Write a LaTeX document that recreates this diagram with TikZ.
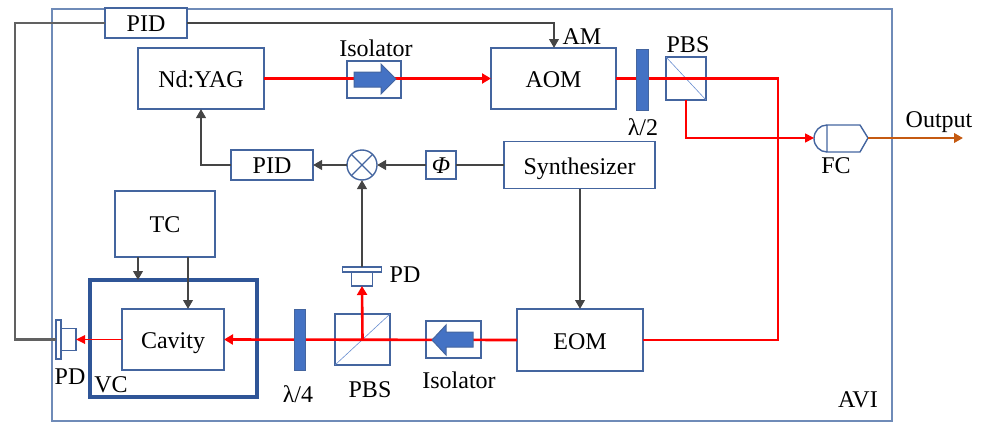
\documentclass[tikz,border=0pt]{standalone}
\usepackage{fontspec}
\setmainfont{Liberation Serif}
\usetikzlibrary{arrows.meta}
\definecolor{boxc}{HTML}{44659F}
\definecolor{outerc}{HTML}{6F8BB8}
\definecolor{vcc}{HTML}{2F5597}
\definecolor{platec}{HTML}{4472C4}
\definecolor{darkl}{HTML}{454545}
\definecolor{redl}{HTML}{FF0000}
\definecolor{orangel}{HTML}{C55A11}
\tikzset{
 x=1pt,y=-1pt,
 boxn/.style={draw=boxc,line width=1.4pt,inner sep=0pt,outer sep=0pt,font=\fontsize{24}{28}\selectfont,minimum width=#1},
 txtc/.style={text height=18pt,text depth=0pt},
 plate/.style={draw=boxc,fill=platec,line width=.6pt,inner sep=0pt,outer sep=0pt,minimum width=#1},
 lab/.style={inner sep=0pt,font=\fontsize{24}{28}\selectfont},
 sig/.style={draw=darkl,line width=2.7pt},
 sigar/.style={sig,-{Triangle[length=9pt,width=9.5pt]}},
 beam/.style={draw=redl,line width=2.6pt},
 beamar/.style={beam,-{Triangle[length=9pt,width=10pt]}},
 thinbeam/.style={draw=redl,line width=1.7pt,-{Triangle[length=9pt,width=8.5pt]}},
 arrowshape/.style={draw=boxc,fill=platec,line width=1pt,line join=miter},
}
\begin{document}
\begin{tikzpicture}
\useasboundingbox (0,0) rectangle (988,423);
\node[draw=outerc,line width=1.4pt,inner sep=0pt,outer sep=0pt,minimum width=840pt,minimum height=412pt] (avi) at (472,215) {};
% boxes
\node[boxn=82pt,minimum height=30pt,fill=white,text height=16pt,text depth=0pt] (pidt) at (146,23) {PID};
\node[boxn=126pt,minimum height=61pt,txtc] (yag) at (201,78.5) {Nd:YAG};
\node[boxn=54pt,minimum height=37pt] (isot) at (374,79.5) {};
\node[boxn=125pt,minimum height=61pt,txtc] (aom) at (553.5,78.5) {AOM};
\node[boxn=40pt,minimum height=43pt] (pbst) at (686,78.5) {};
\node[boxn=151pt,minimum height=47pt,txtc] (syn) at (579.5,165) {Synthesizer};
\node[boxn=30pt,minimum height=28pt,text height=16pt,text depth=0pt] (phi) at (441,165) {\itshape Φ};
\node[boxn=30pt,circle] (mix) at (362,165) {};
\node[boxn=82pt,minimum height=30pt,text height=16pt,text depth=0pt] (pidm) at (272,165) {PID};
\node[boxn=100pt,minimum height=66pt,text height=16pt,text depth=0pt] (tc) at (165,224) {TC};
\node[draw=vcc,line width=3.2pt,inner sep=0pt,outer sep=0pt,minimum width=167pt,minimum height=117pt] (vc) at (173.5,338.5) {};
\node[boxn=102pt,minimum height=61pt,txtc] (cav) at (173,339.5) {Cavity};
\node[boxn=55pt,minimum height=51pt] (pbsb) at (362.5,339.5) {};
\node[boxn=55pt,minimum height=37pt] (isob) at (453.5,339.5) {};
\node[boxn=126pt,minimum height=62pt,txtc] (eom) at (580,340) {EOM};
\node[boxn=21pt,minimum height=14pt] (pdtb) at (362,279) {};
\node[boxn=39pt,minimum height=5pt] (pdtp) at (362,269.5) {};
\node[boxn=15pt,minimum height=22pt] (pdlb) at (68.5,339.5) {};
\node[boxn=5pt,minimum height=39pt] (pdlp) at (58.5,339.5) {};
% beam splitter diagonals
\draw[draw=platec!80,line width=.6pt] (pbst.north west) -- (pbst.south east);
\draw[draw=platec!80,line width=.6pt] (pbsb.south west) -- (pbsb.north east);
% mixer cross
\draw[draw=boxc,line width=1.4pt] (mix.45) -- (mix.225) (mix.135) -- (mix.315);
% fibre coupler
\coordinate (fcin) at (814,138);
\coordinate (fcout) at (868,138);
\draw[draw=boxc,line width=1.4pt,line join=round] (827,125) -- (860,125) -- (fcout) -- (860,152) -- (827,152) -- cycle;
\draw[draw=boxc,line width=1.4pt] (827,125) arc[start angle=90,end angle=270,x radius=13,y radius=-13.5];
% electronic connectors
\coordinate (loopa) at (15,339.5);
\coordinate (loopb) at (15,23);
\coordinate (amtop) at (554,23);
\draw[sig,line width=2.4pt,draw=darkl!85] (pdlp.west) -- (loopa) -- (loopb) -- (pidt.west);
\draw[sigar,line width=2.4pt] (pidt.east) -- (amtop) -- (amtop |- aom.north);
\draw[sig] (syn.west) -- (phi.east);
\draw[sigar] (phi.west) -- (mix.east);
\draw[sigar] (mix.west) -- (pidm.east);
\draw[sigar] (pidm.west) -| (yag.south);
\draw[sigar] (pdtp.north) -- (mix.south);
\draw[sigar] (syn.south -| eom.north) -- (eom.north);
\coordinate (tca) at (138,257);
\coordinate (tcb) at (188,257);
\draw[sigar] (tca) -- (tca |- vc.north);
\draw[sigar] (tcb) -- (tcb |- cav.north);
% optical connectors
\draw[beamar] (yag.east) -- (aom.west);
\draw[beam,line join=miter] (aom.east) -- (778,78.5) -- (778,340) -- (eom.east);
\draw[beamar] (eom.west) -- (cav.east);
\draw[beamar] (pbsb.center) -- (pdtb.south);
\draw[thinbeam] (cav.west) -- (pdlb.east);
\draw[draw=redl,line width=1.7pt,line join=miter,-{Triangle[length=9pt,width=9pt]}] (pbst.south) -- (pbst.south |- fcin) -- (fcin);
\draw[draw=orangel,line width=2.6pt,-{Triangle[length=9pt,width=9.5pt]}] (fcout) -- (963,138);
% filled parts on top of the beams
\node[plate=12pt,minimum height=61pt] (hwp) at (642,79.5) {};
\node[plate=11pt,minimum height=61pt] (qwp) at (299.5,339.5) {};
\draw[arrowshape] (354,72) -- (381,72) -- (381,64) -- (396,79) -- (381,94) -- (381,87) -- (354,87) -- cycle;
\draw[arrowshape] (473,332) -- (446,332) -- (446,325) -- (432,340) -- (446,355) -- (446,347) -- (473,347) -- cycle;
% labels
\node[lab] (l1) at (376,48) {Isolator};
\node[lab] (l2) at (582,37) {AM};
\node[lab] (l3) at (688,45) {PBS};
\node[lab] (l4) at (643,127) {λ/2};
\node[lab] (l5) at (939,122) {Output};
\node[lab] (l6) at (836,166) {FC};
\node[lab] (l7) at (405,275) {PD};
\node[lab] (l8) at (70,377) {PD};
\node[lab] (l9) at (111,385) {VC};
\node[lab] (l10) at (298,394) {λ/4};
\node[lab] (l11) at (370,390) {PBS};
\node[lab] (l12) at (459,380) {Isolator};
\node[lab] (l13) at (858,400) {AVI};
\end{tikzpicture}
\end{document}
